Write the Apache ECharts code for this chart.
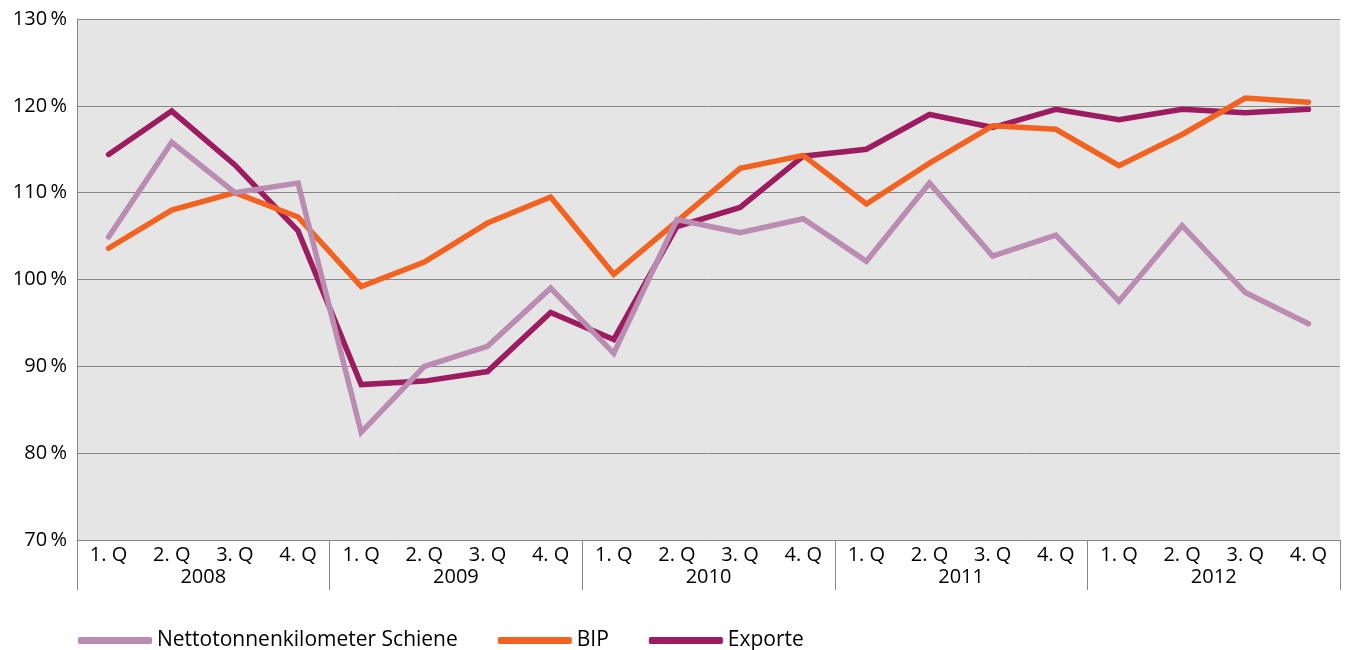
<!DOCTYPE html>
<html>
<head>
<meta charset="utf-8">
<script src="https://cdn.jsdelivr.net/npm/echarts@6/dist/echarts.min.js"></script>
<style>
  html, body { margin: 0; padding: 0; background: #fff; }
  #chart { width: 1346px; height: 650px; }
</style>
</head>
<body>
<div id="chart"></div>
<script>
// Quartale und Jahre
const quarters = ['1. Q', '2. Q', '3. Q', '4. Q',
  '1. Q', '2. Q', '3. Q', '4. Q',
  '1. Q', '2. Q', '3. Q', '4. Q',
  '1. Q', '2. Q', '3. Q', '4. Q',
  '1. Q', '2. Q', '3. Q', '4. Q']
const years = ['2008', '2009', '2010', '2011', '2012']

// Werte in %
const netto = [104.9, 115.8, 110.0, 111.1, 82.4, 90.0, 92.3, 99.0, 91.5, 106.9,
  105.4, 107.0, 102.1, 111.1, 102.7, 105.1, 97.5, 106.2, 98.5, 94.9]
const bip = [103.6, 108.0, 110.0, 107.2, 99.2, 102.0, 106.5, 109.5, 100.6, 106.7,
  112.8, 114.3, 108.7, 113.4, 117.7, 117.3, 113.1, 116.7, 120.9, 120.4]
const exporte = [114.4, 119.4, 113.2, 105.6, 87.9, 88.3, 89.4, 96.2, 93.1, 106.1,
  108.3, 114.2, 115.0, 119.0, 117.5, 119.6, 118.4, 119.6, 119.2, 119.6]

const colors = {
  netto: '#bb8cb1',
  bip: '#f26322',
  exporte: '#9c1c5f'
}

const font = '"Open Sans", Lato, sans-serif'
const gray = '#868686'

const chart = echarts.init(document.getElementById('chart'))

const lineSeries = (name, data, color, z) => ({
  name,
  type: 'line',
  data,
  xAxisIndex: 0,
  showSymbol: false,
  symbol: 'none',
  z,
  lineStyle: { color, width: 5.5, cap: 'round', join: 'miter' },
  itemStyle: { color }
})

chart.setOption({
  animation: false,
  textStyle: { fontFamily: font },
  grid: {
    left: 77,
    right: 6,
    top: 19,
    bottom: 110,
    backgroundColor: '#e5e5e5',
    show: true,
    borderWidth: 0
  },
  legend: {
    left: 73,
    top: 625,
    itemWidth: 74,
    itemHeight: 7,
    itemGap: 40,
    icon: 'roundRect',
    textStyle: { fontFamily: font, fontSize: 21, color: '#000' },
    data: ['Nettotonnenkilometer Schiene', 'BIP', 'Exporte']
  },
  xAxis: [
    {
      type: 'category',
      data: quarters,
      boundaryGap: true,
      axisLine: { show: true, lineStyle: { color: gray, width: 1 } },
      axisTick: { show: false },
      axisLabel: { color: '#000', fontSize: 20, margin: 5, interval: 0, fontFamily: font },
      splitLine: { show: false }
    },
    {
      type: 'category',
      data: years,
      position: 'bottom',
      boundaryGap: true,
      axisLine: { show: false },
      axisTick: { show: true, length: 50, interval: 0, lineStyle: { color: gray, width: 1 } },
      axisLabel: { color: '#000', fontSize: 20, margin: 27, interval: 0, fontFamily: font },
      splitLine: { show: false }
    }
  ],
  yAxis: {
    type: 'value',
    min: 70,
    max: 130,
    interval: 10,
    axisLine: { show: true, lineStyle: { color: gray, width: 1 } },
    axisTick: { show: false },
    axisLabel: {
      color: '#000',
      fontSize: 20,
      margin: 10,
      fontFamily: font,
      formatter: v => v + '\u2009%'
    },
    splitLine: { show: true, lineStyle: { color: gray, width: 1 } }
  },
  series: [
    lineSeries('Nettotonnenkilometer Schiene', netto, colors.netto, 4),
    lineSeries('BIP', bip, colors.bip, 3),
    lineSeries('Exporte', exporte, colors.exporte, 2)
  ]
})
</script>
</body>
</html>
